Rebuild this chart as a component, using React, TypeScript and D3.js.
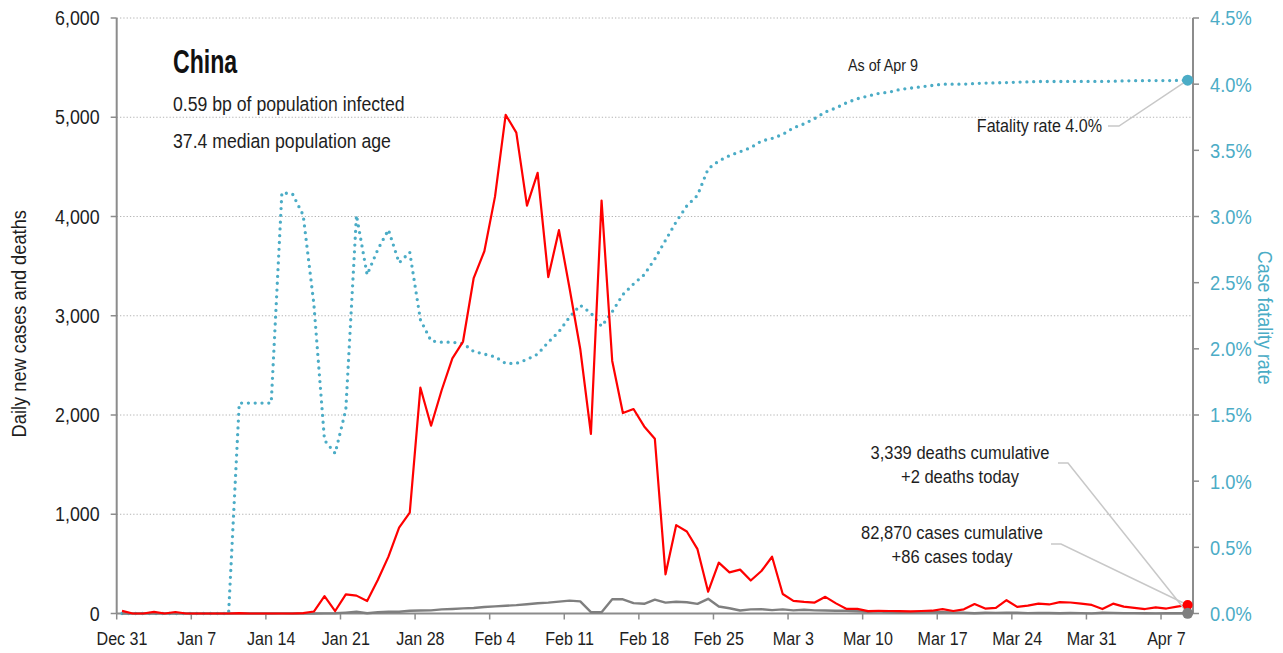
import * as d3 from 'd3'

// days start on Dec 31 2019, one value per day to Apr 9 2020
const firstDay = new Date(Date.UTC(2019, 11, 31))
const lastDay = new Date(Date.UTC(2020, 3, 10))

const dailyCases = [
  27, 0, 0, 17, 0, 15, 0, 0, 0, 0,
  0, 4, 0, 0, 0, 0, 0, 4, 20, 175,
  25, 193, 180, 126, 337, 573, 865, 1016, 2275, 1892,
  2252, 2571, 2740, 3380, 3650, 4200, 5025, 4845, 4110, 4440,
  3390, 3862, 3275, 2665, 1810, 4160, 2545, 2020, 2060, 1885,
  1760, 395, 890, 826, 648, 220, 512, 415, 442, 332,
  428, 572, 196, 127, 117, 110, 168, 102, 46, 46,
  24, 26, 25, 24, 22, 25, 28, 44, 25, 42,
  95, 50, 56, 134, 67, 80, 100, 91, 115, 111,
  99, 86, 45, 99, 69, 57, 45, 62, 50, 70,
  86,
]

const dailyDeaths = [
  0, 0, 0, 0, 0, 0, 0, 0, 0, 0,
  0, 1, 0, 0, 0, 1, 0, 0, 0, 1,
  3, 9, 17, 2, 12, 17, 18, 28, 30, 31,
  42, 46, 52, 56, 65, 72, 78, 84, 93, 103,
  110, 120, 130, 122, 13, 13, 143, 143, 105, 98,
  140, 110, 118, 113, 97, 148, 70, 53, 30, 42,
  44, 34, 42, 31, 38, 31, 30, 28, 27, 22,
  17, 22, 11, 7, 13, 10, 14, 13, 11, 8,
  3, 7, 6, 9, 7, 4, 6, 5, 3, 5,
  4, 1, 7, 6, 4, 4, 3, 1, 2, 2,
  2,
]

// case fatality rate, %
const fatalityRate = [
  0, 0, 0, 0, 0, 0, 0, 0, 0, 0,
  0, 1.59, 1.59, 1.59, 1.59, 3.18, 3.17, 3.01, 2.34, 1.31,
  1.21, 1.54, 3.01, 2.56, 2.75, 2.9, 2.65, 2.73, 2.22, 2.06,
  2.05, 2.05, 2.04, 1.98, 1.96, 1.94, 1.89, 1.89, 1.92, 1.96,
  2.05, 2.13, 2.24, 2.33, 2.27, 2.17, 2.28, 2.41, 2.49, 2.56,
  2.68, 2.82, 2.96, 3.08, 3.16, 3.36, 3.42, 3.46, 3.49, 3.52,
  3.57, 3.59, 3.62, 3.67, 3.7, 3.74, 3.79, 3.82, 3.86, 3.89,
  3.91, 3.93, 3.94, 3.96, 3.97, 3.98, 3.99, 4.0, 4.0, 4.0,
  4.005, 4.008, 4.01, 4.012, 4.015, 4.017, 4.02, 4.02, 4.02, 4.021,
  4.021, 4.021, 4.021, 4.022, 4.025, 4.026, 4.027, 4.027, 4.027, 4.028,
  4.03,
]

const countTicks = [0, 1000, 2000, 3000, 4000, 5000, 6000]
const rateTicks = [0, 0.5, 1, 1.5, 2, 2.5, 3, 3.5, 4, 4.5]

const title = 'China'
const subtitles = ['0.59 bp of population infected', '37.4 median population age']
const asOfLabel = 'As of Apr 9'
const rateLabel = 'Fatality rate 4.0%'
const deathsLabel = ['3,339 deaths cumulative', '+2 deaths today']
const casesLabel = ['82,870 cases cumulative', '+86 cases today']

const FONT = "'Liberation Sans', Arial, sans-serif"
const SQUEEZE = 0.87 // narrow the sans to look like a condensed face
const RED = '#ff0000'
const GREY = '#7f7f7f'
const TEAL = '#4bacc6'
const INK = '#1e1e1e'
const AXIS = '#8c8c8c'
const LEADER = '#c8c8c8'

type LabelProps = {
  x: number
  y: number
  size: number
  anchor?: 'start' | 'middle' | 'end'
  fill?: string
  rotate?: number
  sx?: number
  weight?: string
  dy?: string
  children: React.ReactNode
}

function Label({ x, y, size, anchor = 'start', fill = INK, rotate = 0, sx = SQUEEZE, weight, dy, children }: LabelProps) {
  return (
    <text
      transform={`translate(${x},${y}) rotate(${rotate}) scale(${sx},1)`}
      textAnchor={anchor}
      fontSize={size}
      fontWeight={weight}
      fill={fill}
      dy={dy}
    >
      {children}
    </text>
  )
}

export default function App() {
  const width = 1283
  const height = 653
  const left = 116.7
  const right = 1193
  const top = 18
  const bottom = 613.5

  const x = d3.scaleUtc().domain([firstDay, lastDay]).range([left, right])
  const yCount = d3.scaleLinear().domain([0, 6000]).range([bottom, top])
  const yRate = d3.scaleLinear().domain([0, 4.5]).range([bottom, top])

  // each value sits at noon of its day
  const dayX = (i: number) => x(d3.utcHour.offset(d3.utcDay.offset(firstDay, i), 12))

  const countLine = d3.line<number>().x((_, i) => dayX(i)).y(d => yCount(d))
  const rateLine = d3.line<number>().x((_, i) => dayX(i)).y(d => yRate(d))

  const weeks = d3.utcTuesday.range(firstDay, lastDay)
  const fmt = d3.utcFormat('%b %-d')

  const last = dailyCases.length - 1
  const endX = dayX(last)
  const caseEnd = yCount(dailyCases[last])
  const deathEnd = yCount(dailyDeaths[last])
  const rateEnd = yRate(fatalityRate[last])

  return (
    <svg
      width={width}
      height={height}
      style={{ position: 'absolute', left: 0, top: 0, background: '#fff' }}
      fontFamily={FONT}
    >
      {/* grid */}
      {countTicks.filter(t => t > 0).map(t => (
        <line key={t} x1={left} x2={right} y1={yCount(t)} y2={yCount(t)}
          stroke="#b4b4b4" strokeWidth={1} strokeDasharray="1.3 2" />
      ))}

      {/* left axis */}
      <line x1={left} x2={left} y1={top} y2={bottom} stroke={AXIS} strokeWidth={2} />
      {countTicks.map(t => (
        <g key={t}>
          <line x1={left - 6} x2={left} y1={yCount(t)} y2={yCount(t)} stroke={AXIS} strokeWidth={1.5} />
          <Label x={left - 17} y={yCount(t)} dy="0.35em" anchor="end" size={20.5}>
            {d3.format(',')(t)}
          </Label>
        </g>
      ))}
      <Label x={26} y={(top + bottom) / 2 + 8} rotate={-90} anchor="middle" size={21}>
        Daily new cases and deaths
      </Label>

      {/* right axis */}
      <line x1={right} x2={right} y1={top} y2={bottom} stroke={AXIS} strokeWidth={2} />
      {rateTicks.map(t => (
        <g key={t}>
          <line x1={right} x2={right + 6} y1={yRate(t)} y2={yRate(t)} stroke={AXIS} strokeWidth={1.5} />
          <Label x={right + 17} y={yRate(t)} dy="0.35em" size={21} fill={TEAL}>
            {d3.format('.1f')(t)}%
          </Label>
        </g>
      ))}
      <Label x={1258} y={(top + bottom) / 2 + 2} rotate={90} anchor="middle" size={20.5} fill={TEAL}>
        Case fatality rate
      </Label>

      {/* bottom axis */}
      <line x1={left} x2={right} y1={bottom} y2={bottom} stroke={AXIS} strokeWidth={2} />
      {weeks.map(w => (
        <g key={w.toISOString()}>
          <line x1={x(w)} x2={x(w)} y1={bottom} y2={bottom + 6} stroke={AXIS} strokeWidth={1.5} />
          <Label x={x(d3.utcHour.offset(w, 12))} y={645} anchor="middle" size={18.5}>
            {fmt(w)}
          </Label>
        </g>
      ))}

      {/* series */}
      <path d={rateLine(fatalityRate) ?? ''} fill="none" stroke={TEAL} strokeWidth={3.3}
        strokeLinecap="round" strokeDasharray="0 6.8" />
      <path d={countLine(dailyDeaths) ?? ''} fill="none" stroke={GREY} strokeWidth={2.4}
        strokeLinejoin="round" />
      <path d={countLine(dailyCases) ?? ''} fill="none" stroke={RED} strokeWidth={2.2}
        strokeLinejoin="round" />

      {/* annotations */}
      <Label x={173} y={73} size={34} weight="bold" sx={0.68} fill="#111">{title}</Label>
      {subtitles.map((s, i) => (
        <Label key={s} x={173} y={111 + i * 37} size={20.3}>{s}</Label>
      ))}
      <Label x={883} y={71} anchor="middle" size={16.5}>{asOfLabel}</Label>

      <polyline points={`1108,126 1119,126 ${endX},${rateEnd}`} fill="none" stroke={LEADER} strokeWidth={1.5} />
      <Label x={1102} y={132} anchor="end" size={18.5}>{rateLabel}</Label>

      <polyline points={`1058,463 1068,463 ${endX},${deathEnd}`} fill="none" stroke={LEADER} strokeWidth={1.5} />
      {deathsLabel.map((s, i) => (
        <Label key={s} x={960} y={459 + i * 24} anchor="middle" size={19}>{s}</Label>
      ))}

      <polyline points={`1051,544 1061,544 ${endX},${caseEnd}`} fill="none" stroke={LEADER} strokeWidth={1.5} />
      {casesLabel.map((s, i) => (
        <Label key={s} x={952} y={539 + i * 24} anchor="middle" size={19}>{s}</Label>
      ))}

      <circle cx={endX} cy={rateEnd} r={5.5} fill={TEAL} />
      <circle cx={endX} cy={caseEnd} r={5} fill={RED} />
      <circle cx={endX} cy={deathEnd} r={5.5} fill={GREY} />
    </svg>
  )
}
